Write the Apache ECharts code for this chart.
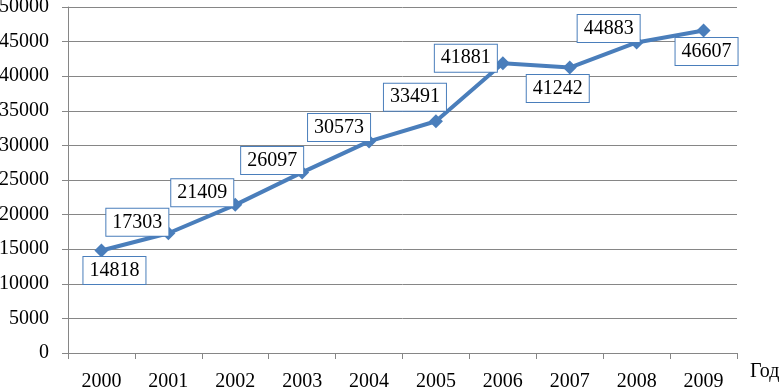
<!DOCTYPE html>
<html>
<head>
<meta charset="utf-8">
<script src="https://cdn.jsdelivr.net/npm/echarts@6/dist/echarts.min.js"></script>
<style>html,body{margin:0;padding:0;background:#fff}#c{width:782px;height:389px}</style>
</head>
<body>
<div id="c"></div>
<script>
var years = ['2000','2001','2002','2003','2004','2005','2006','2007','2008','2009'];
var values = [14818, 17303, 21409, 26097, 30573, 33491, 41881, 41242, 44883, 46607];
var xAxisName = 'Год';
// label box offsets relative to each point (layout only)
var labelOffsets = [[13,20],[-31,-11],[-33,-12],[-30,-12],[-30,-14],[-21,-24],[-37,-5],[-12,21],[-28,-14],[3,21]];

var FONT = '"Liberation Serif","Times New Roman",serif';
var chart = echarts.init(document.getElementById('c'));
chart.setOption({
  animation: false,
  grid: {left: 68, top: 7, right: 45, bottom: 36, containLabel: false, outerBoundsMode: 'none'},
  xAxis: {
    type: 'category',
    data: years,
    boundaryGap: true,
    name: xAxisName,
    nameLocation: 'end',
    nameGap: 13,
    nameTextStyle: {color: '#000', fontFamily: FONT, fontSize: 20, verticalAlign: 'top', padding: [9,0,0,0]},
    axisLine: {lineStyle: {color: '#868686', width: 1}},
    axisTick: {show: true, length: 6, alignWithLabel: false, lineStyle: {color: '#868686'}},
    axisLabel: {color: '#000', fontFamily: FONT, fontSize: 20, margin: 19}
  },
  yAxis: {
    type: 'value',
    min: 0, max: 50000, interval: 5000,
    axisLine: {show: true, lineStyle: {color: '#868686', width: 1}},
    axisTick: {show: true, length: 6, lineStyle: {color: '#868686'}},
    splitLine: {lineStyle: {color: '#868686', width: 1}},
    axisLabel: {color: '#000', fontFamily: FONT, fontSize: 20, margin: 19, formatter: function(v){ return String(v); }}
  },
  series: [{
    type: 'line',
    data: values.map(function(v, i){
      return {value: v, label: {offset: labelOffsets[i]}};
    }),
    symbol: 'diamond',
    symbolSize: 14,
    lineStyle: {color: '#4A7EBB', width: 4},
    itemStyle: {color: '#4A7EBB'},
    label: {
      show: true,
      position: 'inside',
      color: '#000',
      fontFamily: FONT,
      fontSize: 20,
      lineHeight: 20,
      backgroundColor: '#fff',
      borderColor: '#4A7EBB',
      borderWidth: 1,
      padding: [4, 6, 3, 6]
    }
  }]
});
</script>
</body>
</html>
